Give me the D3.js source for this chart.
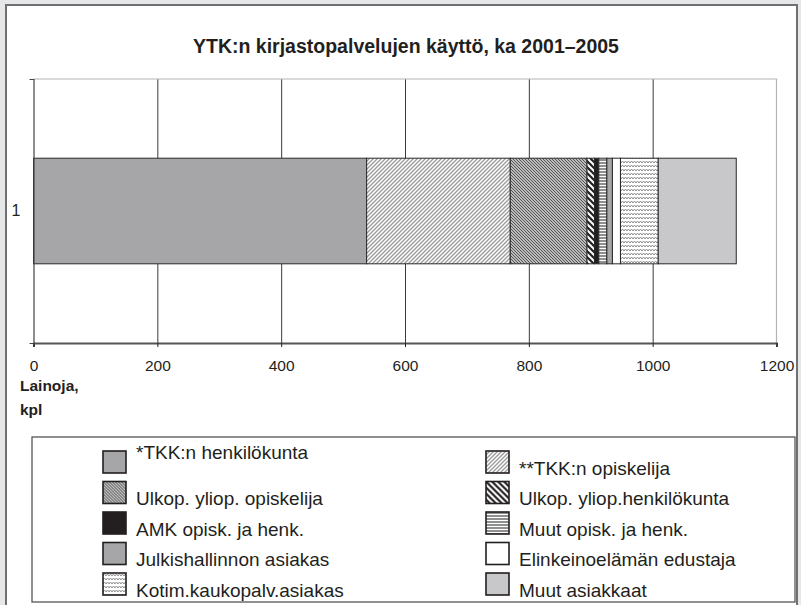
<!DOCTYPE html>
<html>
<head>
<meta charset="utf-8">
<script src="https://cdn.jsdelivr.net/npm/d3@7"></script>
<style>
  body { margin: 0; background: #e6e7e8 }
  svg  { display: block; font-family: "Liberation Sans", Arial, sans-serif }
</style>
</head>
<body>
<svg id="chart" width="801" height="605"></svg>
<script>
// values (loans, pcs)
const categories = ['1']
const series = [
  '*TKK:n henkilökunta', '**TKK:n opiskelija',
  'Ulkop. yliop. opiskelija', 'Ulkop. yliop.henkilökunta',
  'AMK opisk. ja henk.', 'Muut opisk. ja henk.',
  'Julkishallinnon asiakas', 'Elinkeinoelämän edustaja',
  'Kotim.kaukopalv.asiakas', 'Muut asiakkaat'
]
const loans = [538, 232, 124, 12, 7, 13, 9, 13, 61, 126]
const xTicks = [0, 200, 400, 600, 800, 1000, 1200]
const title = 'YTK:n kirjastopalvelujen käyttö, ka 2001–2005'
const axisTitle = ['Lainoja,', 'kpl']

const fills = ['#a6a6a9', 'url(#p-fwd)', 'url(#p-back)', 'url(#p-bold)', '#231f20',
               'url(#p-hor)', '#a6a6a9', '#ffffff', 'url(#p-wave)', '#c8c8ca']

let svg = d3.select('#chart'),
    m   = { l: 33.5, r: 776.5, t: 79, b: 343 },
    ink = '#231f20'

// panel
svg.append('rect')
  .attr('x', 6).attr('y', 5).attr('width', 791).attr('height', 640)
  .attr('fill', '#fff').attr('stroke', '#707070').attr('stroke-width', 2)

// patterns
let defs = svg.append('defs')

function _pattern(id, w, h, bg) {
  let p = defs.append('pattern')
    .attr('id', id)
    .attr('patternUnits', 'userSpaceOnUse')
    .attr('width', w).attr('height', h)
  p.append('rect').attr('width', w).attr('height', h).attr('fill', bg)
  return p
}

_pattern('p-fwd', 4, 4, '#fff')
  .append('path').attr('d', 'M-1,1 l2,-2 M0,4 l4,-4 M3,5 l2,-2')
  .attr('stroke', '#9a9a9a').attr('stroke-width', 1.3)

_pattern('p-back', 3, 3, '#bcbcbc')
  .append('path').attr('d', 'M-1,-1 l5,5 M-1,2 l2,2 M2,-1 l2,2')
  .attr('stroke', '#555').attr('stroke-width', 1)

_pattern('p-bold', 6, 6, '#fff')
  .append('path').attr('d', 'M-1,-1 l8,8 M-1,5 l2,2 M5,-1 l2,2')
  .attr('stroke', ink).attr('stroke-width', 2.2)

_pattern('p-hor', 4, 3, '#fff')
  .append('path').attr('d', 'M0,1 h4')
  .attr('stroke', '#6a6a6a').attr('stroke-width', 1.5)

_pattern('p-wave', 6, 4, '#fff')
  .append('path').attr('d', 'M0,3 l1.5,-2 l1.5,2 l1.5,-2 l1.5,2')
  .attr('fill', 'none').attr('stroke', '#8f8f8f').attr('stroke-width', 1)

// title
svg.append('text')
  .attr('x', 406).attr('y', 53)
  .attr('text-anchor', 'middle')
  .attr('font-size', 19.5).attr('font-weight', 'bold')
  .attr('fill', ink)
  .text(title)

// scales
let x = d3.scaleLinear().domain([0, 1200]).range([m.l, m.r]),
    y = d3.scaleBand().domain(categories).range([m.t, m.b])
          .paddingInner(0.2).paddingOuter(0.6)

// grid
svg.append('g')
  .attr('transform', 'translate(0,' + m.b + ')')
  .call(d3.axisBottom(x).tickValues(xTicks.slice(1, -1)).tickSize(m.t - m.b).tickFormat(''))
  .call(g => g.select('.domain').remove())
  .call(g => g.selectAll('line').attr('stroke', '#3a3a3a').attr('stroke-width', 1))

// light frame on top and right
svg.append('path')
  .attr('d', 'M' + m.l + ',' + m.t + 'H' + x(1200) + 'V' + m.b)
  .attr('fill', 'none').attr('stroke', '#b4b4b4').attr('stroke-width', 1.2)

// stacked bar
let row = { cat: categories[0] }
series.forEach((s, i) => { row[s] = loans[i] })

let stack = d3.stack().keys(series)([row])

svg.append('g')
  .selectAll('rect')
  .data(stack)
  .join('rect')
    .attr('x', d => x(d[0][0]))
    .attr('y', d => y(d[0].data.cat))
    .attr('width', d => x(d[0][1]) - x(d[0][0]))
    .attr('height', y.bandwidth())
    .attr('fill', (d, i) => fills[i])
    .attr('stroke', '#2a2a2a').attr('stroke-width', 1)

// axes
svg.append('g')
  .attr('transform', 'translate(0,' + m.b + ')')
  .call(d3.axisBottom(x).tickValues(xTicks).tickFormat(d3.format('d'))
          .tickSize(4).tickSizeOuter(4).tickPadding(13))
  .call(g => g.select('.domain').attr('stroke', '#555').attr('stroke-width', 2))
  .call(g => g.selectAll('line').attr('stroke', ink))
  .call(g => g.selectAll('text')
    .attr('font-family', '"Liberation Sans", Arial, sans-serif')
    .attr('font-size', 15.5).attr('fill', ink))

svg.append('g')
  .attr('transform', 'translate(' + m.l + ',0)')
  .call(d3.axisLeft(y).tickSize(0).tickSizeOuter(4).tickPadding(13))
  .call(g => g.select('.domain').attr('stroke', '#444').attr('stroke-width', 1.2))
  .call(g => g.selectAll('text')
    .attr('font-family', '"Liberation Sans", Arial, sans-serif')
    .attr('font-size', 16).attr('fill', ink))

// axis title
svg.append('text')
  .attr('font-size', 15.5).attr('font-weight', 'bold').attr('fill', ink)
  .selectAll('tspan')
  .data(axisTitle)
  .join('tspan')
    .attr('x', 20)
    .attr('y', (d, i) => 391 + i * 24)
    .text(d => d)

// legend
svg.append('rect')
  .attr('x', 32).attr('y', 437).attr('width', 763).attr('height', 165)
  .attr('fill', '#fff').attr('stroke', '#555').attr('stroke-width', 1.3)

let λ = svg.append('g')
  .selectAll('g')
  .data(series)
  .join('g')
    .attr('transform', (d, i) =>
      'translate(' + (i % 2 ? 486 : 103) + ',' + (451 + Math.floor(i / 2) * 30.5) + ')')

λ.append('rect')
  .attr('width', 23).attr('height', 22)
  .attr('fill', (d, i) => fills[i])
  .attr('stroke', ink).attr('stroke-width', 1.6)

λ.append('text')
  .attr('x', 33)
  .attr('y', (d, i) => i === 0 ? 7.5 : 23.5) // first label sits high, as in the original
  .attr('font-size', 19).attr('fill', ink)
  .text(d => d)
</script>
</body>
</html>
